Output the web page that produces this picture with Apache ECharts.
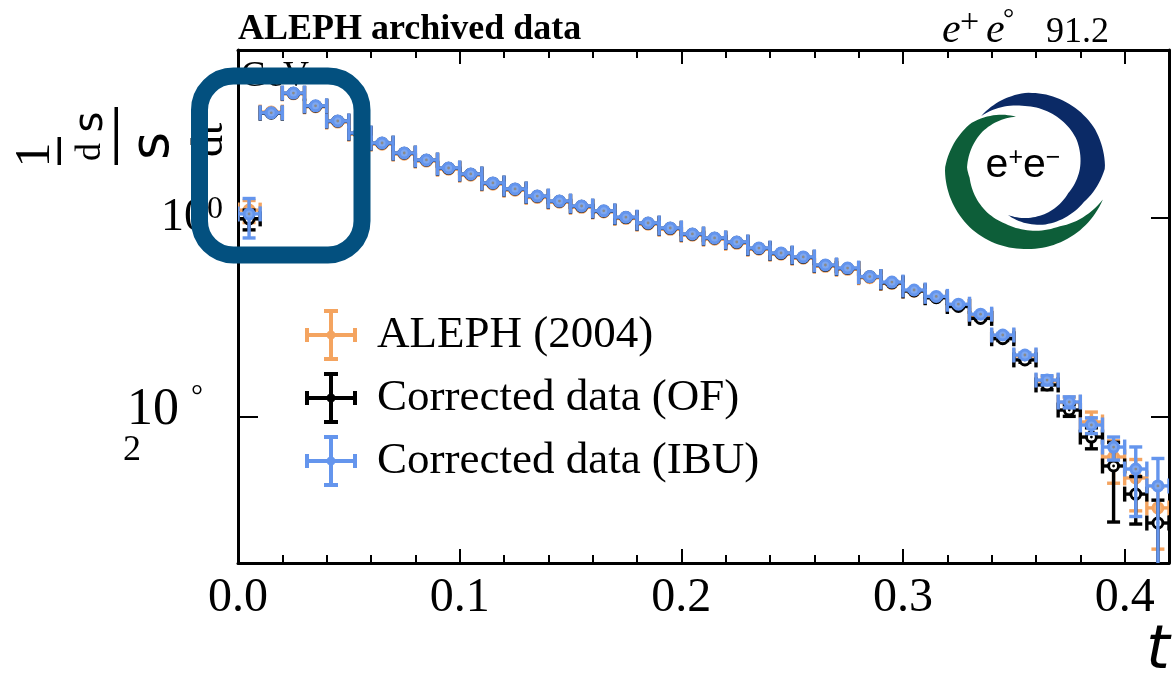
<!DOCTYPE html>
<html>
<head>
<meta charset="utf-8">
<script src="https://cdn.jsdelivr.net/npm/echarts@6/dist/echarts.min.js"></script>
<style>
  html, body { margin: 0; padding: 0; background: #fff; }
  #chart { width: 1173px; height: 678px; }
</style>
</head>
<body>
<div id="chart"></div>
<script>
// Thrust distribution, bin centres (1 - T) and half bin width
const TAU = [0.005, 0.015, 0.025, 0.035, 0.045, 0.055, 0.065, 0.075, 0.085, 0.095,
             0.105, 0.115, 0.125, 0.135, 0.145, 0.155, 0.165, 0.175, 0.185, 0.195,
             0.205, 0.215, 0.225, 0.235, 0.245, 0.255, 0.265, 0.275, 0.285, 0.295,
             0.305, 0.315, 0.325, 0.335, 0.345, 0.355, 0.365, 0.375, 0.385, 0.395,
             0.405, 0.415];
const HALF_BIN = 0.005;

// ALEPH (2004) published distribution
const ALEPH_2004 = [1.20, 11.6, 17.7, 13.1, 9.20, 6.95, 5.52, 4.38, 3.73, 3.09,
                    2.69, 2.19, 1.90, 1.61, 1.44, 1.28, 1.15, 0.99, 0.866, 0.770,
                    0.671, 0.612, 0.557, 0.485, 0.432, 0.394, 0.327, 0.305, 0.251, 0.220,
                    0.184, 0.159, 0.133, 0.105, 0.0650, 0.0410, 0.0230, 0.0140, 0.00891, 0.00396,
                    0.00244, 0.00122];
const ALEPH_2004_ERR = [0.30, 0.22, 0.32, 0.22, 0.16, 0.12, 0.09, 0.07, 0.055, 0.045,
                        0.04, 0.032, 0.028, 0.023, 0.02, 0.018, 0.016, 0.014, 0.012, 0.011,
                        0.010, 0.009, 0.008, 0.007, 0.0065, 0.006, 0.0055, 0.005, 0.0045, 0.004,
                        0.004, 0.0035, 0.003, 0.0028, 0.0024, 0.002, 0.0022, 0.0018, 0.0023, 0.0018,
                        0.0013, 0.00075];

// Corrected data, omnifold unfolding
const CORR_OF = [0.98, 11.3, 17.9, 13.3, 9.40, 7.10, 5.64, 4.48, 3.81, 3.16,
                 2.76, 2.24, 1.95, 1.65, 1.47, 1.31, 1.17, 1.01, 0.885, 0.788,
                 0.686, 0.626, 0.570, 0.495, 0.441, 0.402, 0.334, 0.311, 0.257, 0.223,
                 0.185, 0.158, 0.129, 0.098, 0.0612, 0.0375, 0.0210, 0.01175, 0.00629, 0.00322,
                 0.00168, 0.00086];
const CORR_OF_ERR = [0.22, 0.24, 0.34, 0.24, 0.17, 0.13, 0.10, 0.08, 0.06, 0.05,
                     0.045, 0.035, 0.03, 0.025, 0.022, 0.02, 0.018, 0.015, 0.013, 0.012,
                     0.011, 0.010, 0.009, 0.008, 0.007, 0.007, 0.006, 0.006, 0.005, 0.005,
                     0.0045, 0.004, 0.0035, 0.003, 0.0025, 0.002, 0.0022, 0.0016, 0.0015, 0.00234,
                     0.00084, 0.0006];

// Corrected data, iterative Bayesian unfolding
const CORR_IBU = [1.10, 11.4, 18.0, 13.4, 9.44, 7.15, 5.67, 4.50, 3.83, 3.18,
                  2.77, 2.25, 1.96, 1.66, 1.48, 1.32, 1.18, 1.02, 0.891, 0.793,
                  0.691, 0.630, 0.574, 0.499, 0.445, 0.406, 0.337, 0.314, 0.258, 0.227,
                  0.189, 0.163, 0.136, 0.108, 0.0667, 0.0420, 0.0235, 0.01415, 0.00831, 0.00499,
                  0.00300, 0.00203];
const CORR_IBU_ERR = [0.47, 0.25, 0.35, 0.25, 0.18, 0.13, 0.10, 0.08, 0.06, 0.05,
                      0.045, 0.035, 0.03, 0.025, 0.022, 0.02, 0.018, 0.015, 0.013, 0.012,
                      0.011, 0.010, 0.009, 0.008, 0.007, 0.007, 0.006, 0.006, 0.005, 0.005,
                      0.0045, 0.004, 0.0035, 0.003, 0.0025, 0.002, 0.0025, 0.0018, 0.0015, 0.0013,
                      0.0020, 0.0018];

const SERIES_NAMES = ['ALEPH (2004)', 'Corrected data (OF)', 'Corrected data (IBU)'];

// Axis ranges and ticks
const X_RANGE = [0, 0.42];
const X_MAJOR_TICKS = [0, 0.1, 0.2, 0.3, 0.4];
const X_MINOR_TICKS = [0.02, 0.04, 0.06, 0.08, 0.12, 0.14, 0.16, 0.18, 0.22, 0.24,
                       0.26, 0.28, 0.32, 0.34, 0.36, 0.38, 0.40];
const Y_RANGE = [3.41e-4, 48.8];          // shown on a log10 scale
const Y_DECADE_TICKS = [0, -2];           // exponents with a tick mark and label

const SERIF = '"Liberation Serif", "Times New Roman", serif';
const SANS = '"DejaVu Sans", sans-serif';
const GRID = { left: 238, top: 50, width: 931, height: 513 };

function errorBarSeries(name, vals, errs, color, fill, dot) {
  return {
    type: 'custom',
    name: name,
    xAxisIndex: 0,
    yAxisIndex: 0,
    clip: true,
    itemStyle: { color: color },
    data: TAU.map((t, i) => [t, vals[i], errs[i]]),
    encode: { x: 0, y: 1 },
    renderItem(params, api) {
      const t = api.value(0), v = api.value(1), e = api.value(2);
      const ly = Math.log10(v);
      const c = api.coord([t, ly]);
      const xl = api.coord([t - HALF_BIN, ly])[0];
      const xr = api.coord([t + HALF_BIN, ly])[0];
      const yt = api.coord([t, Math.log10(v + e)])[1];
      const yb = v - e > 0 ? api.coord([t, Math.log10(v - e)])[1]
                           : params.coordSys.y + params.coordSys.height + 40;
      const ls = { stroke: color, lineWidth: 3.4 };
      const line = (x1, y1, x2, y2) => ({ type: 'line', shape: { x1, y1, x2, y2 }, style: ls });
      return {
        type: 'group',
        children: [
          line(xl, c[1], xr, c[1]),
          line(xl, c[1] - 7.5, xl, c[1] + 7.5),
          line(xr, c[1] - 7.5, xr, c[1] + 7.5),
          line(c[0], yt, c[0], yb),
          line(c[0] - 6.5, yt, c[0] + 6.5, yt),
          line(c[0] - 6.5, yb, c[0] + 6.5, yb),
          { type: 'circle', shape: { cx: c[0], cy: c[1], r: 5 },
            style: { fill: fill, stroke: color, lineWidth: 3 } },
          { type: 'circle', shape: { cx: c[0], cy: c[1], r: 1.4 }, style: { fill: dot } }
        ]
      };
    }
  };
}

// Legend symbol: an error-bar cross with caps and a centre dot
const ERRBAR_ICON = 'path://M0,24H52V28H0Z M24,0H28V52H24Z M0,19H4V33H0Z M48,19H52V33H48Z ' +
                    'M19,0H33V4H19Z M19,48H33V52H19Z M30.5,26A4.5,4.5,0,1,1,21.5,26A4.5,4.5,0,1,1,30.5,26Z';

// e+e- logo: two tapered spiral arms
function lerpTable(table, a) {
  for (let i = 0; i < table.length - 1; i++) {
    const [a0, v0] = table[i], [a1, v1] = table[i + 1];
    if ((a - a0) * (a - a1) <= 0) {
      return a1 === a0 ? v0 : v0 + (v1 - v0) * (a - a0) / (a1 - a0);
    }
  }
  return table[table.length - 1][1];
}
function spiralArm(cx, cy, outer, thick) {
  const a0 = outer[0][0], a1 = outer[outer.length - 1][0];
  const n = 90, pts = [];
  for (let i = 0; i <= n; i++) {
    const a = a0 + (a1 - a0) * i / n, r = lerpTable(outer, a), rad = a * Math.PI / 180;
    pts.push([cx + r * Math.cos(rad), cy + r * Math.sin(rad)]);
  }
  for (let i = n; i >= 0; i--) {
    const a = a0 + (a1 - a0) * i / n;
    const r = lerpTable(outer, a) - lerpTable(thick, a), rad = a * Math.PI / 180;
    pts.push([cx + r * Math.cos(rad), cy + r * Math.sin(rad)]);
  }
  return pts;
}
const LOGO_C = [1025, 168];
const greenArm = spiralArm(LOGO_C[0], LOGO_C[1],
  [[-100, 52], [-140, 70], [-180, 80], [-230, 81], [-270, 81], [-310, 83], [-338, 84]],
  [[-100, 0], [-140, 14], [-190, 24], [-250, 22], [-300, 15], [-338, 0]]);
const blueArm = spiralArm(LOGO_C[0], LOGO_C[1],
  [[-130, 68], [-90, 75], [-30, 80], [0, 80], [30, 68], [70, 60], [110, 50]],
  [[-130, 0], [-90, 13], [-30, 21], [0, 25], [30, 18], [70, 10], [110, 0]]);

const chart = echarts.init(document.getElementById('chart'), null, { renderer: 'canvas' });

const axisLineStyle = { color: '#000', width: 3 };
const tickStyle = { color: '#000', width: 2 };

chart.setOption({
  backgroundColor: '#fff',
  animation: false,
  grid: [
    Object.assign({ containLabel: false }, GRID),
    Object.assign({ containLabel: false }, GRID)
  ],
  xAxis: [
    { // bottom, major ticks and labels
      type: 'value', gridIndex: 0, position: 'bottom', min: X_RANGE[0], max: X_RANGE[1],
      axisLine: { show: true, onZero: false, lineStyle: axisLineStyle },
      axisTick: { show: true, inside: true, length: 14, lineStyle: tickStyle, customValues: X_MAJOR_TICKS },
      axisLabel: { show: true, customValues: X_MAJOR_TICKS, margin: 11, color: '#000',
                   fontFamily: SERIF, fontSize: 48, formatter: v => v.toFixed(1) },
      splitLine: { show: false }
    },
    { // top, major ticks
      type: 'value', gridIndex: 0, position: 'top', min: X_RANGE[0], max: X_RANGE[1],
      axisLine: { show: true, onZero: false, lineStyle: axisLineStyle },
      axisTick: { show: true, inside: true, length: 14, lineStyle: tickStyle, customValues: X_MAJOR_TICKS },
      axisLabel: { show: false }, splitLine: { show: false }
    },
    { // bottom, minor ticks
      type: 'value', gridIndex: 1, position: 'bottom', min: X_RANGE[0], max: X_RANGE[1],
      axisLine: { show: false, onZero: false },
      axisTick: { show: true, inside: true, length: 8, lineStyle: tickStyle, customValues: X_MINOR_TICKS },
      axisLabel: { show: false }, splitLine: { show: false }
    },
    { // top, minor ticks
      type: 'value', gridIndex: 1, position: 'top', min: X_RANGE[0], max: X_RANGE[1],
      axisLine: { show: false, onZero: false },
      axisTick: { show: true, inside: true, length: 8, lineStyle: tickStyle, customValues: X_MINOR_TICKS },
      axisLabel: { show: false }, splitLine: { show: false }
    }
  ],
  yAxis: [
    { // left, log10 scale
      type: 'value', gridIndex: 0, position: 'left',
      min: Math.log10(Y_RANGE[0]), max: Math.log10(Y_RANGE[1]),
      axisLine: { show: true, onZero: false, lineStyle: axisLineStyle },
      axisTick: { show: true, inside: true, length: 20, lineStyle: tickStyle, customValues: Y_DECADE_TICKS },
      axisLabel: {
        show: true, customValues: Y_DECADE_TICKS, margin: 15, color: '#000',
        fontFamily: SERIF,
        formatter: v => v === 0 ? '{n|10}{sup|0}' : '{n2|10}{deg|°}\n{s|2}',
        rich: {
          n: { fontFamily: SERIF, fontSize: 46, lineHeight: 48, color: '#000' },
          sup: { fontFamily: SERIF, fontSize: 32, lineHeight: 48, verticalAlign: 'top', color: '#000' },
          n2: { fontFamily: SERIF, fontSize: 52, lineHeight: 68, verticalAlign: 'bottom', color: '#000' },
          deg: { fontFamily: SERIF, fontSize: 30, verticalAlign: 'top',
                 padding: [14, 20, 0, 12], color: '#000' },
          s: { fontFamily: SERIF, fontSize: 36, lineHeight: 30, width: 100, align: 'left', color: '#000' }
        }
      },
      splitLine: { show: false }
    },
    { // right frame
      type: 'value', gridIndex: 0, position: 'right',
      min: Math.log10(Y_RANGE[0]), max: Math.log10(Y_RANGE[1]),
      axisLine: { show: true, onZero: false, lineStyle: axisLineStyle },
      axisTick: { show: true, inside: true, length: 18, lineStyle: tickStyle, customValues: Y_DECADE_TICKS },
      axisLabel: { show: false }, splitLine: { show: false }
    },
    {
      type: 'value', gridIndex: 1, show: false,
      min: Math.log10(Y_RANGE[0]), max: Math.log10(Y_RANGE[1])
    }
  ],
  legend: {
    show: true,
    orient: 'vertical',
    left: 300,
    top: 304,
    itemWidth: 52,
    itemHeight: 52,
    itemGap: 11,
    selectedMode: false,
    data: SERIES_NAMES.map(n => ({ name: n, icon: ERRBAR_ICON })),
    formatter: n => '{g| }' + n,
    textStyle: {
      fontFamily: SERIF, fontSize: 45, color: '#000', lineHeight: 52,
      rich: { g: { width: 15 } }
    }
  },
  series: [
    errorBarSeries(SERIES_NAMES[0], ALEPH_2004, ALEPH_2004_ERR, '#F4A460', '#F7B77E', '#d98a4a'),
    errorBarSeries(SERIES_NAMES[1], CORR_OF, CORR_OF_ERR, '#000000', '#ffffff', '#000000'),
    errorBarSeries(SERIES_NAMES[2], CORR_IBU, CORR_IBU_ERR, '#6495ED', '#7ea7f0', '#8a8a8a')
  ],
  graphic: [
    // header texts
    { type: 'text', left: 238, top: 12, z: 50,
      style: { text: 'ALEPH archived data', font: 'bold 36px ' + SERIF, fill: '#000' } },
    { type: 'text', x: 942, y: 31, z: 50,
      style: { text: 'e', font: 'italic 42px ' + SERIF, fill: '#000', verticalAlign: 'middle' } },
    { type: 'text', x: 960, y: 23, z: 50,
      style: { text: '+', font: '34px ' + SERIF, fill: '#000', verticalAlign: 'middle' } },
    { type: 'text', x: 986, y: 31, z: 50,
      style: { text: 'e', font: 'italic 42px ' + SERIF, fill: '#000', verticalAlign: 'middle' } },
    { type: 'text', x: 1003, y: 20, z: 50,
      style: { text: '°', font: '28px ' + SERIF, fill: '#000', verticalAlign: 'middle' } },
    { type: 'text', x: 1046, y: 33, z: 50,
      style: { text: '91.2', font: '36px ' + SERIF, fill: '#000', verticalAlign: 'middle' } },
    { type: 'text', x: 241, y: 77, z: 50,
      style: { text: 'GeV', font: '36px ' + SERIF, fill: '#000', verticalAlign: 'middle' } },

    // y axis title (rotated)
    { type: 'text', x: 36, y: 155, rotation: Math.PI / 2, z: 50,
      style: { text: '1', font: '50px ' + SERIF, fill: '#000', align: 'center', verticalAlign: 'middle' } },
    { type: 'rect', shape: { x: 57.5, y: 137, width: 3.5, height: 28 }, z: 50, style: { fill: '#000' } },
    { type: 'text', x: 91, y: 152, rotation: Math.PI / 2, z: 50,
      style: { text: 'd', font: '36px ' + SERIF, fill: '#000', align: 'center', verticalAlign: 'middle' } },
    { type: 'text', x: 92, y: 122, rotation: Math.PI / 2, z: 50,
      style: { text: 's', font: '40px ' + SANS, fill: '#000', align: 'center', verticalAlign: 'middle' } },
    { type: 'rect', shape: { x: 114.5, y: 107, width: 3.5, height: 58 }, z: 50, style: { fill: '#000' } },
    { type: 'text', x: 154, y: 146, rotation: Math.PI / 2, z: 50,
      style: { text: 's', font: '54px ' + SANS, fill: '#000', align: 'center', verticalAlign: 'middle' } },
    { type: 'text', x: 210, y: 140, rotation: Math.PI / 2, z: 50,
      style: { text: 'dt', font: '44px ' + SERIF, fill: '#000', align: 'center', verticalAlign: 'middle' } },

    // x axis title
    { type: 'text', x: 1158, y: 652, z: 50,
      style: { text: 't', font: 'italic 60px ' + SANS, fill: '#000', align: 'center', verticalAlign: 'middle' } },

    // logo
    { type: 'polygon', shape: { points: greenArm }, z: 40, style: { fill: '#0d5e39' } },
    { type: 'polygon', shape: { points: blueArm }, z: 41, style: { fill: '#0b2a66' } },
    { type: 'text', x: 1023, y: 166, z: 42,
      style: { text: '{b|e}{p|+}{b|e}{p|−}', align: 'center', verticalAlign: 'middle',
               rich: { b: { fontFamily: '"Liberation Sans", Arial, sans-serif', fontSize: 41, fill: '#000' },
                       p: { fontFamily: '"Liberation Sans", Arial, sans-serif', fontSize: 25,
                            verticalAlign: 'top', fill: '#000' } } } },

    // highlight frame
    { type: 'rect', z: 60,
      shape: { x: 199.5, y: 76, width: 162.5, height: 179, r: 34 },
      style: { fill: 'none', stroke: '#03507f', lineWidth: 17 } }
  ]
});
</script>
</body>
</html>
